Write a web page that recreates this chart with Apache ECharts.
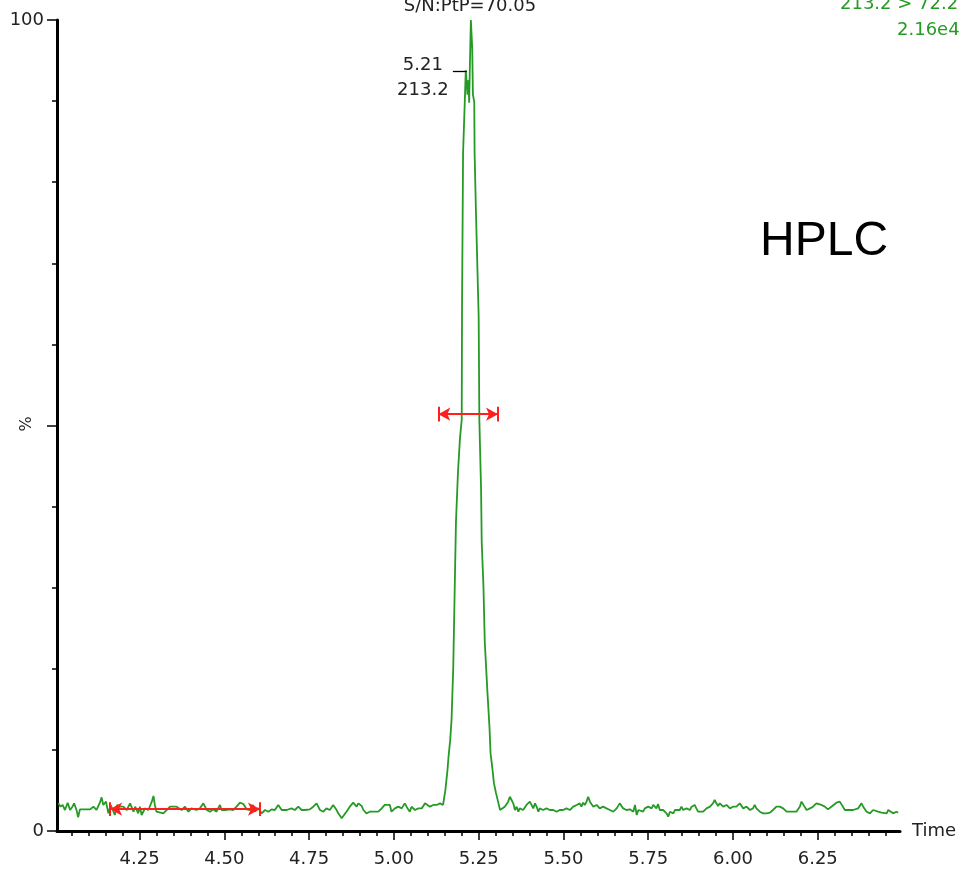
<!DOCTYPE html>
<html><head><meta charset="utf-8">
<script src="https://cdn.jsdelivr.net/npm/echarts@6.0.0/dist/echarts.min.js"></script>
<style>html,body{margin:0;padding:0;background:#fff}#c{width:960px;height:870px}</style>
</head><body><div id="c"></div>
<script>
// ---- data (retention time in min, intensity in %) ----
const baseLeftTimes = [4.010,4.017,4.023,4.030,4.038,4.045,4.052,4.057,4.064,4.069,4.074,4.089,4.104,4.114,4.123,4.133,4.138,4.143,4.151,4.158,4.165,4.177,4.184,4.192,4.202,4.212,4.222,4.232,4.237,4.246,4.251,4.256,4.266,4.276,4.286,4.291,4.295,4.300,4.305,4.320,4.340,4.359,4.374,4.384,4.394,4.403,4.418,4.428,4.438,4.448,4.458,4.467,4.477,4.487,4.492,4.502,4.517,4.526,4.536,4.546,4.556,4.566,4.575,4.585,4.590,4.600,4.610,4.620,4.630,4.639,4.649,4.659,4.669,4.684,4.698,4.708,4.718,4.728,4.738,4.752,4.762,4.772,4.782,
  4.792,4.801,4.811,4.821,4.826,4.831,4.836,4.846,4.851,4.860,4.870,4.880,4.885,4.890,4.895,4.900,4.905,4.910,4.915,4.919,4.929,4.939,4.954,4.964,4.973,4.988,4.993,4.998,5.003,5.013,5.023,5.032,5.037,5.042,5.047,5.052,5.062,5.072,5.082,5.092,5.097,5.106,5.116,5.126,5.136,5.145];
const baseLeftValues = [3.41,3.00,3.21,2.59,3.49,2.59,3.00,3.41,2.59,1.69,2.67,2.67,2.67,3.00,2.59,3.49,4.15,3.21,3.62,2.18,3.21,1.97,3.21,3.00,3.00,2.59,3.41,2.38,3.00,2.18,3.00,1.97,2.79,2.59,3.62,4.32,3.21,2.38,2.18,2.18,3.00,3.00,2.59,3.00,2.38,2.79,2.59,2.79,3.41,2.59,2.38,2.67,2.38,3.21,2.59,2.59,2.67,2.59,3.00,3.49,3.33,2.67,2.59,3.21,2.38,2.79,2.18,2.59,2.38,2.67,2.59,3.21,2.59,2.59,2.79,2.59,3.00,2.59,2.59,2.67,3.00,3.41,2.59,
  2.38,2.79,2.59,3.21,3.41,2.59,2.18,1.56,1.77,2.38,3.00,3.49,3.41,3.00,3.41,3.62,3.08,2.59,2.79,2.18,2.38,2.38,2.38,2.79,3.21,3.21,2.38,2.18,2.79,3.00,2.79,3.41,3.62,2.67,2.38,3.00,2.59,2.79,2.79,3.41,3.21,3.00,3.21,3.21,3.41,3.21];
const peakTimes = [5.150,5.152,5.158,5.161,5.166,5.170,5.175,5.179,5.183,5.189,5.195,5.200,5.201,5.204,5.209,5.212,5.217,5.220,5.222,5.224,5.227,5.231,5.233,5.237,5.238,5.242,5.250,5.252,5.257,5.259,5.264,5.268,5.276,5.282,5.285,5.291,5.295,5.301,5.313];
const peakValues = [3.0,5.1,7.5,9.1,11.2,13.7,20.1,29.1,38.0,44.3,48.5,50.7,65.2,83.6,89.9,93.8,90.8,92.6,89.8,94.2,100,96.5,90.8,89.9,83.6,76.3,63.4,50.7,42.3,35.6,30.3,23.3,17.0,12.7,9.6,7.5,5.9,4.7,2.6];
const baseRightTimes = [5.318,5.327,5.337,5.342,5.347,5.352,5.357,5.362,5.367,5.371,5.381,5.391,5.401,5.411,5.416,5.421,5.426,5.430,5.440,5.450,5.460,5.470,5.480,5.489,5.499,5.509,5.519,5.529,5.539,5.548,5.553,5.558,5.563,5.568,5.573,5.578,5.583,5.588,5.598,5.607,5.617,5.627,5.637,5.647,5.657,5.666,5.676,5.686,5.696,5.706,5.711,5.716,5.721,
  5.726,5.735,5.740,5.745,5.750,5.760,5.765,5.774,5.779,5.784,5.789,5.794,5.804,5.809,5.814,5.824,5.829,5.833,5.843,5.848,5.853,5.863,5.868,5.873,5.878,5.887,5.892,5.897,5.902,5.912,5.922,5.932,5.941,5.946,5.951,5.956,5.961,5.971,5.981,5.991,6.000,6.010,6.020,6.025,6.030,6.040,6.050,6.059,6.064,6.069,6.079,6.089,6.099,6.109,6.118,6.128,6.138,6.148,6.158,6.168,6.187,6.197,6.202,6.207,6.217,6.227,6.236,6.246,6.261,6.271,6.280,6.290,6.305,6.315,6.320,6.330,6.340,6.354,6.369,6.379,6.384,6.394,6.404,6.413,6.428,6.438,6.453,6.458,6.462,6.472,6.482,6.487];
const baseRightValues = [2.38,3.00,3.62,4.23,3.82,3.41,2.59,3.00,2.38,2.79,2.59,3.21,3.62,2.79,3.41,3.00,2.38,2.79,2.59,2.79,2.59,2.59,2.38,2.59,2.59,2.79,2.59,3.00,3.21,3.41,3.00,3.49,3.21,3.62,4.23,3.62,3.41,3.00,3.21,2.79,3.00,2.79,2.59,2.38,2.79,3.41,2.79,2.59,2.67,2.38,3.21,1.97,2.59,
  2.59,2.38,2.79,2.59,3.00,2.79,3.21,2.79,3.33,2.59,2.38,2.59,2.18,1.77,2.38,2.18,2.59,2.38,2.59,3.00,2.59,2.79,3.00,2.59,3.00,3.21,2.79,2.38,2.18,2.38,2.79,3.00,3.41,3.82,3.41,3.08,3.41,3.00,3.21,2.79,3.00,3.00,3.41,3.21,2.79,3.00,2.59,2.79,3.21,2.79,2.38,2.18,2.18,2.26,2.59,3.00,3.00,2.79,2.38,2.38,2.38,3.00,3.62,3.41,2.59,2.79,3.00,3.41,3.21,3.00,2.67,3.00,3.49,3.62,3.49,2.59,2.59,2.59,2.79,3.41,3.00,2.38,2.18,2.59,2.38,2.26,2.18,2.59,2.38,2.18,2.38,2.26];

const xRange = [4.0065, 6.4925];
const xMajorTicks = [4.25,4.50,4.75,5.00,5.25,5.50,5.75,6.00,6.25];
const xMinorTicks = [4.05,4.10,4.15,4.20,4.30,4.35,4.40,4.45,4.55,4.60,4.65,4.70,4.80,4.85,4.90,4.95,5.05,5.10,5.15,5.20,5.30,5.35,5.40,5.45,5.55,5.60,5.65,5.70,5.80,5.85,5.90,5.95,6.05,6.10,6.15,6.20,6.30,6.35,6.40,6.45];
const yLabelTicks = [0, 100];

const noiseRange = [4.163, 4.605], noiseLevel = 2.7;     // red baseline-noise bracket
const fwhmRange  = [5.131, 5.307], fwhmLevel  = 51.4;    // red peak-width bracket
const apexTick   = [5.174, 5.215], apexLevel  = 93.7;
const apexLabel  = ['5.21', '213.2'];
const apexLabelAt = [5.0855, 92.9];
const snText = 'S/N:PtP=70.05';
const channelText = ['213.2 > 72.2', '2.16e4'];

function zip(a, b) { const n = Math.min(a.length, b.length); const r = []; for (let i = 0; i < n; i++) r.push([a[i], b[i]]); return r; }
const trace = zip(baseLeftTimes, baseLeftValues).concat(zip(peakTimes, peakValues), zip(baseRightTimes, baseRightValues));

const GREEN = '#259a25', RED = '#ff1f1f', FONT = '"DejaVu Sans", "Liberation Sans", sans-serif';
function bracket(range, lvl, half) {
  return [
    [{ coord: [range[0], lvl], symbol: 'arrow', symbolSize: [10, 12] }, { coord: [range[1], lvl], symbol: 'arrow', symbolSize: [10, 12] }],
    [{ coord: [range[0], lvl - half] }, { coord: [range[0], lvl + half] }],
    [{ coord: [range[1], lvl - half] }, { coord: [range[1], lvl + half] }]
  ];
}

const chart = echarts.init(document.getElementById('c'), null, { renderer: 'canvas' });
chart.setOption({
  animation: false,
  backgroundColor: '#fff',
  grid: { left: 57, right: 60, top: 20, bottom: 39, containLabel: false, outerBoundsMode: 'none' },
  xAxis: [{
    type: 'value', min: xRange[0], max: xRange[1],
    name: 'Time', nameLocation: 'end', nameGap: 12,
    nameTextStyle: { color: '#222', fontSize: 18, fontFamily: FONT, verticalAlign: 'middle', padding: [6, 0, 0, 0] },
    axisLine: { show: true, onZero: false, lineStyle: { color: '#000', width: 3 } },
    axisTick: { show: true, length: 9, lineStyle: { color: '#000', width: 1.5 }, customValues: xMajorTicks },
    axisLabel: { show: true, customValues: xMajorTicks, margin: 19, color: '#222', fontSize: 18, fontFamily: FONT, formatter: v => v.toFixed(2) },
    splitLine: { show: false }
  }, {
    type: 'value', min: xRange[0], max: xRange[1], position: 'bottom',
    axisLine: { show: false },
    axisTick: { show: true, length: 5, lineStyle: { color: '#000', width: 1.5 }, customValues: xMinorTicks },
    axisLabel: { show: false },
    splitLine: { show: false }
  }],
  yAxis: {
    type: 'value', min: 0, max: 100, interval: 50,
    axisLine: { show: true, lineStyle: { color: '#000', width: 3 } },
    axisTick: { show: true, length: 10, lineStyle: { color: '#000', width: 1.5 } },
    minorTick: { show: true, splitNumber: 5, length: 5, lineStyle: { color: '#000', width: 1.5 } },
    axisLabel: { show: true, customValues: yLabelTicks, margin: 13, color: '#222', fontSize: 18, fontFamily: FONT },
    splitLine: { show: false }, minorSplitLine: { show: false }
  },
  series: [{
    type: 'line', data: trace, xAxisIndex: 0, showSymbol: false, symbol: 'none',
    lineStyle: { color: GREEN, width: 1.8 }, itemStyle: { color: GREEN }, clip: false, silent: true,
    markLine: {
      silent: true, animation: false, symbol: ['none', 'none'],
      label: { show: false },
      lineStyle: { color: RED, width: 2, type: 'solid' },
      data: bracket(noiseRange, noiseLevel, 0.86).concat(bracket(fwhmRange, fwhmLevel, 0.92), [
        [{ coord: [apexTick[0], apexLevel], lineStyle: { color: '#000', width: 1.3, type: 'solid' } }, { coord: [apexTick[1], apexLevel] }]
      ])
    },
    markPoint: {
      silent: true, animation: false,
      data: [{ coord: apexLabelAt, symbol: 'circle', symbolSize: 1, itemStyle: { color: 'rgba(0,0,0,0)' },
        label: { show: true, position: 'inside', formatter: apexLabel.join('\n'), color: '#222', fontSize: 18, fontFamily: FONT, lineHeight: 25, align: 'center', verticalAlign: 'middle' } }]
    }
  }],
  graphic: [
    { type: 'text', x: 27, y: 424, rotation: Math.PI / 2, style: { text: '%', align: 'center', verticalAlign: 'middle', font: '16px ' + FONT, fill: '#222' } },
    { type: 'text', x: 470, y: 6, style: { text: snText, align: 'center', verticalAlign: 'middle', font: '18px ' + FONT, fill: '#222' } },
    { type: 'text', x: 840, y: 4, style: { text: channelText[0], align: 'left', verticalAlign: 'middle', font: '18px ' + FONT, fill: GREEN } },
    { type: 'text', x: 897, y: 30, style: { text: channelText[1], align: 'left', verticalAlign: 'middle', font: '18px ' + FONT, fill: GREEN } },
    { type: 'text', x: 760, y: 242, style: { text: 'HPLC', align: 'left', verticalAlign: 'middle', font: '48px "Liberation Sans", Arial, sans-serif', fill: '#000' } }
  ]
});
</script>
</body></html>
